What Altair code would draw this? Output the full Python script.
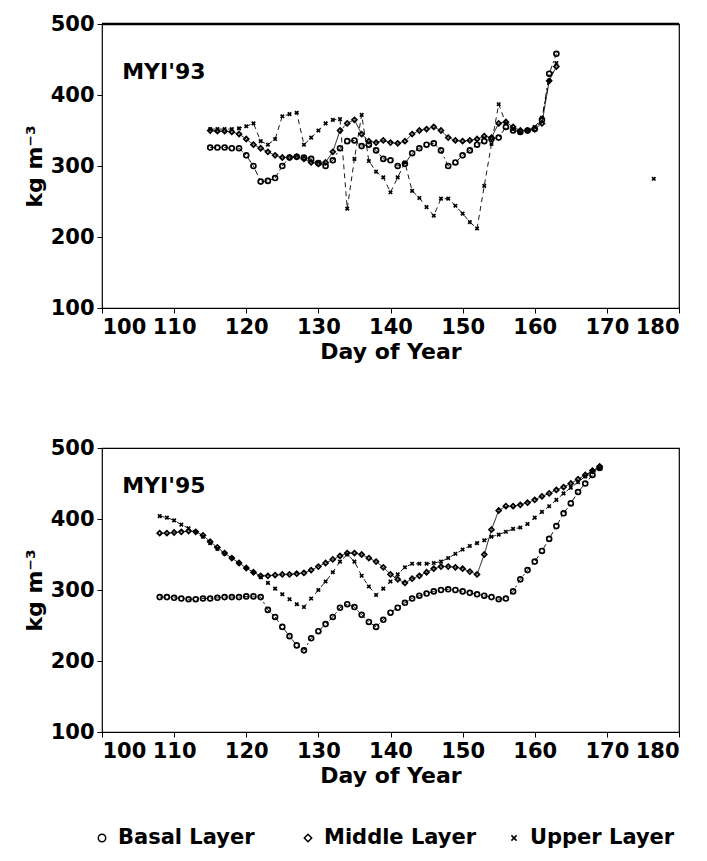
import altair as alt
import pandas as pd

layers = ["Basal Layer", "Middle Layer", "Upper Layer"]

# ---- MYI'93 (top panel) ----
days93 = list(range(115, 164))
basal93 = [326, 326, 326, 325, 325, 315, 300, 278, 279, 283,
           300, 312, 313, 312, 310, 304, 300, 308, 325, 335,
           336, 328, 330, 322, 310, 308, 300, 303, 318, 325,
           330, 332, 322, 300, 305, 315, 322, 330, 335, 338,
           340, 355, 350, 348, 350, 352, 365, 430, 458]
middle93 = [350, 349, 349, 348, 345, 338, 330, 325, 320, 315,
            312, 312, 313, 310, 305, 303, 305, 320, 350, 360,
            365, 345, 335, 333, 336, 333, 332, 335, 345, 350,
            352, 355, 350, 340, 336, 335, 336, 338, 342, 340,
            360, 362, 355, 350, 350, 352, 360, 420, 440]
upper93 = [352, 352, 352, 352, 353, 356, 360, 335, 330, 338,
           370, 373, 375, 330, 340, 350, 360, 365, 366, 240,
           310, 372, 307, 292, 284, 263, 284, 305, 265, 255,
           242, 230, 254, 254, 244, 233, 221, 212, 272, 331,
           387, 360, 352, 347, 350, 355, 368, 420, 445]
stray_day93 = [176.5]
stray_val93 = [282]

# ---- MYI'95 (bottom panel) ----
days95 = list(range(108, 170))
basal95 = [290, 290, 289, 288, 287, 287, 288, 288, 289, 290,
           290, 290, 291, 291, 290, 272, 262, 248, 235, 222,
           215, 232, 242, 252, 262, 275, 280, 276, 265, 255,
           248, 258, 268, 275, 282, 288, 292, 295, 298, 300,
           301, 300, 298, 296, 294, 292, 290, 287, 288, 298,
           315, 328, 340, 355, 372, 390, 408, 422, 438, 450,
           462, 472]
middle95 = [380, 380, 381, 382, 383, 382, 377, 368, 360, 352,
            345, 338, 331, 325, 320, 320, 321, 322, 322, 323,
            324, 328, 333, 338, 343, 348, 352, 352, 350, 345,
            340, 332, 322, 315, 310, 316, 320, 325, 330, 333,
            333, 332, 330, 326, 322, 350, 385, 412, 418, 418,
            420, 423, 427, 432, 436, 441, 445, 450, 456, 462,
            468, 474]
upper95 = [404, 402, 398, 392, 387, 382, 375, 366, 358, 351,
           345, 338, 331, 325, 318, 310, 302, 294, 287, 280,
           276, 288, 300, 312, 325, 340, 350, 340, 320, 305,
           293, 302, 312, 322, 332, 337, 337, 337, 338, 340,
           345, 351, 357, 362, 366, 370, 375, 378, 382, 386,
           388, 393, 402, 410, 418, 427, 436, 444, 452, 460,
           468, 472]

x_ticks = [100, 110, 120, 130, 140, 150, 160, 170, 180]
y_ticks = [100, 200, 300, 400, 500]

FONT = "DejaVu Sans"
X_SHAPE = "M-0.7,-0.7L0.7,0.7M-0.7,0.7L0.7,-0.7"
SHAPES = ["circle", "diamond", X_SHAPE]


def build_df(days, b, m, u, extra_days=None, extra_vals=None):
    rows = []
    for name, vals in zip(layers, [b, m, u]):
        for d, v in zip(days, vals):
            rows.append({"day": d, "value": v, "layer": name, "dash": name, "key": name})
    if extra_days:
        for d, v in zip(extra_days, extra_vals):
            rows.append({"day": d, "value": v, "layer": "Upper Layer", "dash": "Upper Layer", "key": "stray"})
    return pd.DataFrame(rows)


def panel(df, label, label_y, thick_top=False):
    x = alt.X("day:Q", scale=alt.Scale(domain=[100, 180], nice=False, zero=False),
              axis=alt.Axis(values=x_ticks, title="Day of Year", format="d"))
    y = alt.Y("value:Q", scale=alt.Scale(domain=[100, 500], nice=False, zero=False),
              axis=alt.Axis(values=y_ticks, title="kg m⁻³", format="d"))
    lines = alt.Chart(df).mark_line(color="black", strokeWidth=0.9).encode(
        x=x, y=y, detail="key:N",
        strokeDash=alt.StrokeDash("dash:N", scale=alt.Scale(
            domain=layers, range=[[6, 3, 2, 3], [1, 0], [5, 4]]), legend=None),
    )
    pts = alt.Chart(df).mark_point(filled=False, color="black", size=24, strokeWidth=1.7, opacity=1).encode(
        x=x, y=y,
        shape=alt.Shape("layer:N", scale=alt.Scale(domain=layers, range=SHAPES), legend=None),
    )
    txt = alt.Chart(pd.DataFrame({"label": [label]})).mark_text(
        align="left", baseline="middle", fontSize=22, font=FONT, fontWeight="bold", color="black"
    ).encode(x=alt.datum(102.8), y=alt.datum(label_y), text="label:N")
    parts = [lines, pts, txt]
    if thick_top:
        top_rule = alt.Chart(pd.DataFrame({"v": [500]})).mark_rule(color="black", strokeWidth=2.5).encode(
            y=alt.Y("v:Q", scale=alt.Scale(domain=[100, 500], nice=False, zero=False)))
        parts.append(top_rule)
    return alt.layer(*parts).properties(width=577, height=284)


top = panel(build_df(days93, basal93, middle93, upper93, stray_day93, stray_val93), "MYI'93", 432, True)
bottom = panel(build_df(days95, basal95, middle95, upper95), "MYI'95", 447)

# ---- manual legend row ----
leg_df = pd.DataFrame({"layer": layers})
leg_x = alt.X("layer:N", scale=alt.Scale(type="point", domain=layers, range=[0, 412], padding=0),
              axis=None)
leg_pts = alt.Chart(leg_df).mark_point(filled=False, color="black", size=55, strokeWidth=1.5, opacity=1).encode(
    x=leg_x, y=alt.value(10),
    shape=alt.Shape("layer:N", scale=alt.Scale(domain=layers, range=SHAPES), legend=None),
)
leg_txt = alt.Chart(leg_df).mark_text(
    align="left", baseline="middle", dx=16, fontSize=21, font=FONT, fontWeight="bold", color="black"
).encode(x=leg_x, y=alt.value(10), text="layer:N")
legend = alt.layer(leg_pts, leg_txt).properties(
    width=577, height=20, view=alt.ViewBackground(strokeWidth=0, stroke="transparent"))

chart = alt.vconcat(alt.vconcat(top, bottom, spacing=73), legend, spacing=40).properties(
    padding={"left": 22, "top": 12, "right": 20, "bottom": 2},
    background="white",
).configure_view(stroke="black", strokeWidth=1.2).configure_axis(
    labelFont=FONT, labelFontSize=21, labelFontWeight="bold", labelColor="black",
    titleFont=FONT, titleFontSize=22, titleFontWeight="bold", titleColor="black",
    tickColor="black", tickSize=5, domain=False, grid=False, labelPadding=3, titlePadding=4,
)

chart.save("out.html", embed_options={"renderer": "svg", "actions": False})
